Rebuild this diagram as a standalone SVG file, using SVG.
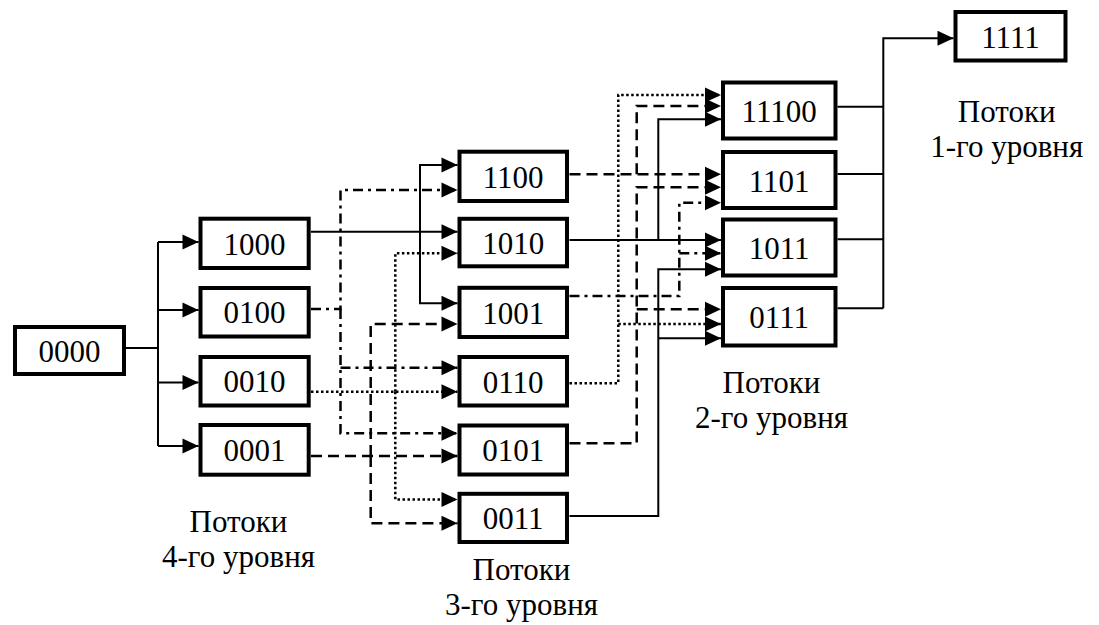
<svg xmlns="http://www.w3.org/2000/svg" width="1099" height="625" viewBox="0 0 1099 625">
  <style>
    .box rect { fill: #fff; stroke: #000; stroke-width: 4; }
    text { font-family: "Liberation Serif", "Times New Roman", serif; font-size: 31px; fill: #000; text-anchor: middle; }
    .c path { fill: none; stroke: #000; stroke-width: 2; }
    .c .dash { stroke-width: 2.5; stroke-dasharray: 11 6; }
    .c .dd { stroke-width: 2.5; stroke-dasharray: 10 5 3 5; }
    .c .dot { stroke-width: 2.5; stroke-dasharray: 2.5 2.5; }
    .c .a { marker-end: url(#arr); }
  </style>
  <defs>
    <marker id="arr" markerUnits="userSpaceOnUse" markerWidth="17" markerHeight="16" refX="16" refY="7.5" orient="auto" overflow="visible">
      <path d="M0,0 L16,7.5 L0,15 Z" fill="#000" stroke="none"/>
    </marker>
  </defs>

  <!-- connectors -->
  <g id="connectors" class="c">
    <!-- 0000 fan-out to level 4 -->
    <path d="M126,348 H158"/>
    <path d="M158,242 V446"/>
    <path class="a" d="M158,242 H198.5"/>
    <path class="a" d="M158,310 H198.5"/>
    <path class="a" d="M158,382.5 H198.5"/>
    <path class="a" d="M158,446 H198.5"/>

    <!-- 1000 -> 1100, 1010, 1001 -->
    <path class="a" d="M311,231.7 H457.5"/>
    <path class="a" d="M420,231.7 V165 H457.5"/>
    <path class="a" d="M420,231.7 V303.3 H457.5"/>

    <!-- 0100 -> 1100, 0110, 0101 -->
    <path class="dd a" d="M311,309 H340.5 V190 H457.5"/>
    <path class="dd a" d="M340.5,309 V433.3 H457.5"/>
    <path class="dd a" d="M340.5,367.7 H457.5"/>

    <!-- 0010 -> 1010, 0110, 0011 -->
    <path class="dot a" d="M311,391.7 H457.5"/>
    <path class="dot a" d="M395.3,391.7 V253.3 H457.5"/>
    <path class="dot a" d="M395.3,391.7 V499.5 H457.5"/>

    <!-- 0001 -> 1001, 0101, 0011 -->
    <path class="dash a" d="M311,456 H457.5"/>
    <path class="dash a" d="M370.7,456 V324 H457.5"/>
    <path class="dash a" d="M370.7,456 V523.3 H457.5"/>

    <!-- 1100 -> 11100, 1101 -->
    <path class="dash a" d="M569.5,174.3 H721"/>
    <path class="dash a" d="M636.7,174.3 V106 H721"/>

    <!-- 1010 -> 11100, 1011 -->
    <path class="a" d="M569.5,240 H721"/>
    <path class="a" d="M658.3,240 V119.3 H721"/>

    <!-- 1001 -> 1101, 1011 -->
    <path class="dd a" d="M569.5,296 H679.3 V202.7 H721"/>
    <path class="dd a" d="M679.3,253.3 H721"/>

    <!-- 0110 -> 11100, 0111 -->
    <path class="dot a" d="M569.5,383.3 H618.3 V95 H721"/>
    <path class="dot a" d="M618.3,324 H721"/>

    <!-- 0101 -> 1101, 0111 -->
    <path class="dash a" d="M569.5,443.3 H636.7 V187.3 H721"/>
    <path class="dash a" d="M636.7,309.3 H721"/>

    <!-- 0011 -> 1011, 0111 -->
    <path class="a" d="M569.5,516 H658.3 V269.3 H721"/>
    <path class="a" d="M658.3,338.3 H721"/>

    <!-- level 2 -> 1111 -->
    <path d="M837.5,106.7 H883.3"/>
    <path d="M837.5,174 H883.3"/>
    <path d="M837.5,239.3 H883.3"/>
    <path d="M837.5,308.3 H883.3"/>
    <path class="a" d="M883.3,308.3 V38.3 H953.5"/>
  </g>

  <!-- source -->
  <g id="n0000" class="box"><rect x="15" y="327" width="109" height="47"/><text x="69.5" y="362">0000</text></g>

  <!-- level 4 -->
  <g id="n1000" class="box"><rect x="200.5" y="218.7" width="108.2" height="49.3"/><text x="254.6" y="254.5">1000</text></g>
  <g id="n0100" class="box"><rect x="200.5" y="288" width="108.2" height="48.5"/><text x="254.6" y="323">0100</text></g>
  <g id="n0010" class="box"><rect x="200.5" y="357" width="108.2" height="48.5"/><text x="254.6" y="392">0010</text></g>
  <g id="n0001" class="box"><rect x="200.5" y="425" width="108.2" height="49.7"/><text x="254.6" y="461">0001</text></g>

  <!-- level 3 -->
  <g id="n1100" class="box"><rect x="459.5" y="151.7" width="107.5" height="49.3"/><text x="513.2" y="187.5">1100</text></g>
  <g id="n1010" class="box"><rect x="459.5" y="218.8" width="107.5" height="47.5"/><text x="513.2" y="254">1010</text></g>
  <g id="n1001" class="box"><rect x="459.5" y="287.8" width="107.5" height="49.2"/><text x="513.2" y="323.5">1001</text></g>
  <g id="n0110" class="box"><rect x="459.5" y="357" width="107.5" height="48.5"/><text x="513.2" y="392.5">0110</text></g>
  <g id="n0101" class="box"><rect x="459.5" y="425.5" width="107.5" height="49"/><text x="513.2" y="461">0101</text></g>
  <g id="n0011" class="box"><rect x="459.5" y="493.8" width="107.5" height="48.2"/><text x="513.2" y="529">0011</text></g>

  <!-- level 2 -->
  <g id="n11100" class="box"><rect x="723" y="82.5" width="112.5" height="56"/><text x="779.2" y="122">11100</text></g>
  <g id="n1101" class="box"><rect x="723" y="152" width="112.5" height="56"/><text x="779.2" y="191.5">1101</text></g>
  <g id="n1011" class="box"><rect x="723" y="219.5" width="112.5" height="56"/><text x="779.2" y="259">1011</text></g>
  <g id="n0111" class="box"><rect x="723" y="288" width="112.5" height="57.5"/><text x="779.2" y="328">0111</text></g>

  <!-- level 1 -->
  <g id="n1111" class="box"><rect x="955.5" y="12" width="110" height="48.5"/><text x="1010.5" y="47.5">1111</text></g>

  <!-- captions -->
  <g id="cap4"><text x="238.5" y="531.7">Потоки</text><text x="238.5" y="566.7">4-го уровня</text></g>
  <g id="cap3"><text x="521.5" y="580">Потоки</text><text x="521.5" y="615">3-го уровня</text></g>
  <g id="cap2"><text x="771.5" y="393.3">Потоки</text><text x="771.5" y="428.3">2-го уровня</text></g>
  <g id="cap1"><text x="1006.7" y="121.7">Потоки</text><text x="1006.7" y="156.7">1-го уровня</text></g>
</svg>
